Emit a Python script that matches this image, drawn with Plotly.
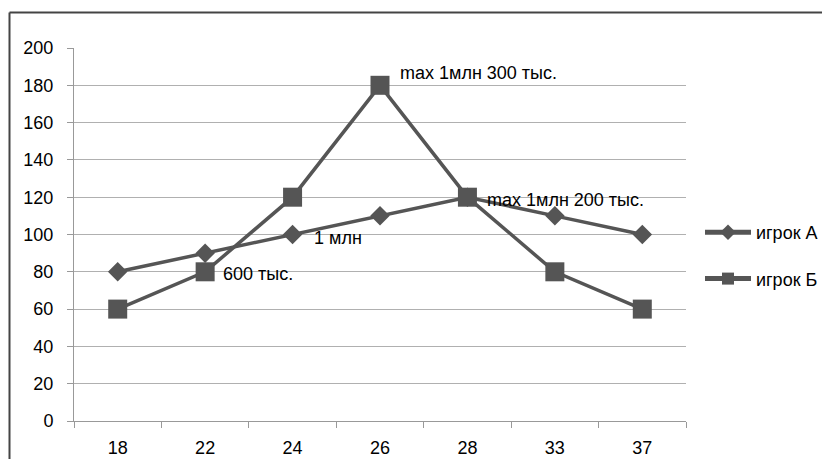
import plotly.graph_objects as go

categories = ["18", "22", "24", "26", "28", "33", "37"]
player_a = [80, 90, 100, 110, 120, 110, 100]
player_b = [60, 80, 120, 180, 120, 80, 60]
series_names = ["игрок А", "игрок Б"]
y_ticks = [0, 20, 40, 60, 80, 100, 120, 140, 160, 180, 200]
notes = [
    ("26", 180, "max 1млн 300 тыс.", 18, 12),
    ("28", 120, "max 1млн 200 тыс.", 18, -3),
    ("24", 100, "1 млн", 19, -3),
    ("22", 80, "600 тыс.", 16, -2),
]

W, H = 822, 459
L, R, T, B = 74, 686, 48, 421
pw, ph = R - L, B - T

col = "#555555"
font = dict(family="Liberation Sans, Arial, sans-serif", size=18, color="#000000")

fig = go.Figure()
fig.add_trace(go.Scatter(x=categories, y=player_a, name=series_names[0], mode="lines+markers",
                         line=dict(color=col, width=3.5), legendgroup="a",
                         marker=dict(symbol="diamond", size=15, color=col)))
fig.add_trace(go.Scatter(x=categories, y=player_b, name=series_names[1], mode="lines+markers",
                         line=dict(color=col, width=3.5), legendgroup="b",
                         marker=dict(symbol="square", size=19, color=col)))

for x, y, t, xs, ys in notes:
    fig.add_annotation(x=categories.index(x), y=y, xref="x", yref="y", text=t, showarrow=False,
                       xanchor="left", yanchor="middle", xshift=xs, yshift=ys, font=font)

def px(xp):
    return (xp - L) / pw

def py(yp):
    return (B - yp) / ph

fig.add_shape(type="line", xref="paper", yref="paper", x0=px(9.5), x1=px(9.5), y0=py(12.5), y1=py(470),
              line=dict(color="#444444", width=2))
fig.add_shape(type="line", xref="paper", yref="paper", x0=px(9.5), x1=px(830), y0=py(12.5), y1=py(12.5),
              line=dict(color="#444444", width=2))

fig.update_layout(
    width=W, height=H,
    margin=dict(l=L, r=W - R, t=T, b=H - B, autoexpand=False),
    paper_bgcolor="white", plot_bgcolor="white",
    font=font,
    showlegend=True,
    legend=dict(x=px(700), y=py(214), xanchor="left", yanchor="top", font=font,
                tracegroupgap=20, itemwidth=46, itemsizing="constant", bgcolor="rgba(0,0,0,0)"),
    xaxis=dict(type="category", showgrid=False, showline=True, linecolor="#999999", linewidth=1,
               ticks="outside", tickson="boundaries", ticklen=6, tickcolor="#999999",
               tickfont=font, range=[-0.5, 6.5], ticklabelstandoff=10, automargin=False),
    yaxis=dict(range=[0, 200], tickvals=y_ticks, showgrid=True, gridcolor="#b0b0b0", gridwidth=1,
               showline=True, linecolor="#999999", linewidth=1, ticks="outside", ticklen=6,
               tickcolor="#999999", tickfont=font, zeroline=False, ticklabelstandoff=10,
               automargin=False),
)

fig.write_html("out.html", config={"displayModeBar": False},
               post_script="document.body.style.margin='0';document.body.style.padding='0';")
